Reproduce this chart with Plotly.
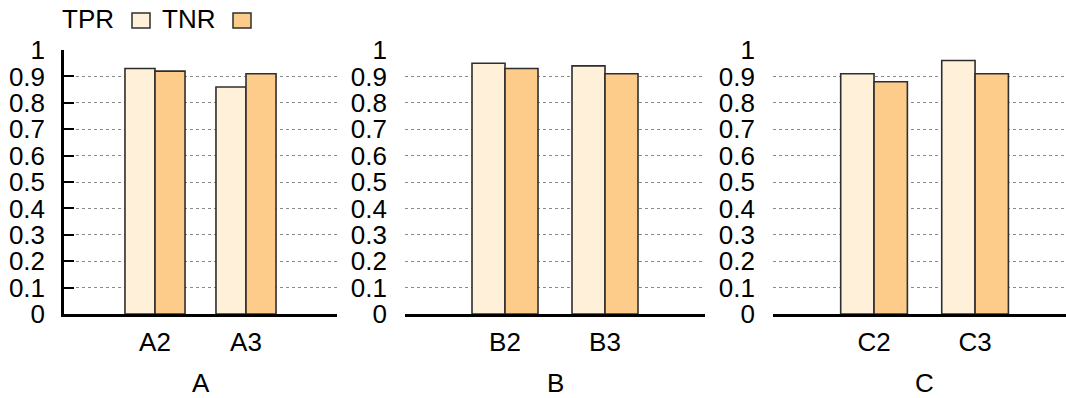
import plotly.graph_objects as go

# Panel data: sub-categories and their TPR / TNR scores
panels = ["A", "B", "C"]
categories = {
    "A": ["A2", "A3"],
    "B": ["B2", "B3"],
    "C": ["C2", "C3"],
}
tpr = {
    "A": [0.93, 0.86],
    "B": [0.95, 0.94],
    "C": [0.91, 0.96],
}
tnr = {
    "A": [0.92, 0.91],
    "B": [0.93, 0.91],
    "C": [0.88, 0.91],
}
y_ticks = [0, 0.1, 0.2, 0.3, 0.4, 0.5, 0.6, 0.7, 0.8, 0.9, 1]
y_tick_text = ["0", "0.1", "0.2", "0.3", "0.4", "0.5", "0.6", "0.7", "0.8", "0.9", "1"]

W, H = 1066, 398
FONT = "Liberation Sans, Arial, Helvetica, sans-serif"
FS = 26
TPR_COLOR = "#FEF0D9"
TNR_COLOR = "#FDCC8A"
EDGE = "#2e2e2e"

# horizontal pixel extents of each panel and its x range (categories at 0,1)
x_px = {"A": (64, 337), "B": (405, 705), "C": (773, 1066)}
x_rng = {"A": [-1, 2], "B": [-1, 2], "C": [-1, 1.9]}
y_dom = [(H - 314) / H, (H - 50) / H]

fig = go.Figure()
layout = dict(
    width=W, height=H,
    margin=dict(l=0, r=0, t=0, b=0, autoexpand=False),
    paper_bgcolor="white", plot_bgcolor="rgba(0,0,0,0)",
    barmode="group", bargap=0.34, bargroupgap=0,
    showlegend=False,
    font=dict(family=FONT, size=FS, color="black"),
)

annotations = []
for i, p in enumerate(panels):
    n = "" if i == 0 else str(i + 1)
    xa, ya = "x" + n, "y" + n
    fig.add_trace(go.Bar(
        x=categories[p], y=tpr[p], name="TPR", xaxis=xa, yaxis=ya,
        marker=dict(color=TPR_COLOR, line=dict(color=EDGE, width=1.6)),
    ))
    fig.add_trace(go.Bar(
        x=categories[p], y=tnr[p], name="TNR", xaxis=xa, yaxis=ya,
        marker=dict(color=TNR_COLOR, line=dict(color=EDGE, width=1.6)),
    ))
    x0, x1 = x_px[p]
    layout["xaxis" + n] = dict(
        domain=[x0 / W, x1 / W], anchor=ya, range=x_rng[p],
        type="category", showline=True, linecolor="black", linewidth=2.5,
        ticks="", showgrid=False, zeroline=False, automargin=False,
        tickfont=dict(family=FONT, size=FS, color="black"),
        ticklabelstandoff=3,
    )
    first = i == 0
    layout["yaxis" + n] = dict(
        domain=y_dom, anchor=xa, range=[0, 1],
        tickvals=y_ticks, ticktext=y_tick_text,
        showline=first, linecolor="black", linewidth=2.5,
        ticks="inside" if first else "", ticklen=10, tickwidth=2, tickcolor="black",
        showgrid=True, gridcolor="#8a8a8a", gridwidth=1, griddash="3px,3px",
        zeroline=False, automargin=False,
        tickfont=dict(family=FONT, size=FS, color="black"),
        ticklabelstandoff=11 if first else 17,
    )
    # panel title under the x axis, centred on the range midpoint
    annotations.append(dict(
        text=p, x=0.5, xref=xa, y=(H - 383) / H, yref="paper",
        xanchor="center", yanchor="middle", showarrow=False,
        font=dict(family=FONT, size=FS, color="black"),
    ))

# legend: label followed by its colour swatch
legend_items = [("TPR", 60, 132, TPR_COLOR), ("TNR", 160, 233, TNR_COLOR)]
shapes = []
for label, tx, bx, col in legend_items:
    annotations.append(dict(
        text=label, x=tx / W, xref="paper", y=(H - 19) / H, yref="paper",
        xanchor="left", yanchor="middle", showarrow=False,
        font=dict(family=FONT, size=FS, color="black"),
    ))
    shapes.append(dict(
        type="rect", xref="paper", yref="paper",
        x0=bx / W, x1=(bx + 18) / W, y0=(H - 28) / H, y1=(H - 13) / H,
        fillcolor=col, line=dict(color=EDGE, width=1.5),
    ))

layout["annotations"] = annotations
layout["shapes"] = shapes
fig.update_layout(**layout)
fig.write_html("out.html")
